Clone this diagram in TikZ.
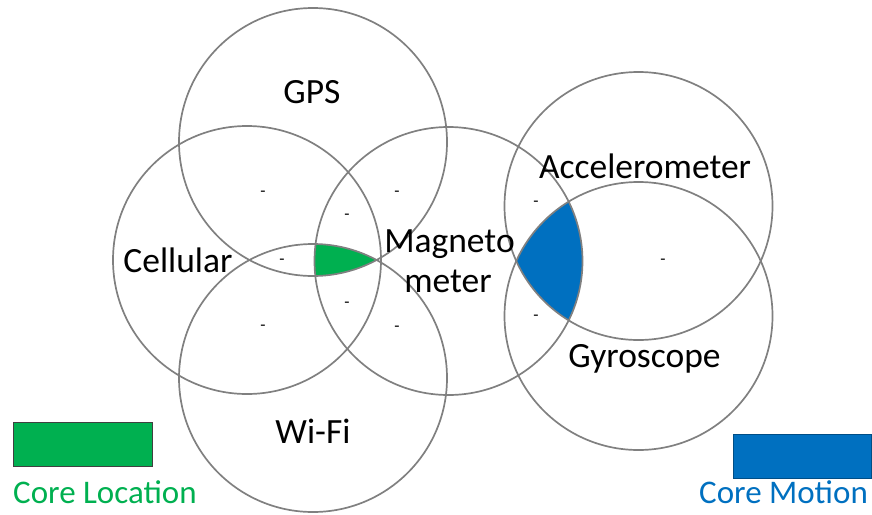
\documentclass[tikz,border=0pt]{standalone}
\usepackage{fontspec}
\setmainfont{Carlito}
\definecolor{locgreen}{HTML}{00B050}
\definecolor{motblue}{HTML}{0070C0}
\definecolor{ringgray}{HTML}{808080}
\begin{document}
\begin{tikzpicture}[x=1pt,y=-1pt,
  ring/.style={draw=ringgray,line width=1.7pt},
  lbl/.style={anchor=base,inner sep=0pt,font=\fontsize{35.5}{40}\selectfont,text=black},
  dashmark/.style={inner sep=0pt,font=\fontsize{17}{18}\selectfont,text=black},
  legtext/.style={anchor=base west,inner sep=0pt,font=\fontsize{33}{36}\selectfont}]
\useasboundingbox (0,0) rectangle (872,514);
% centres
\coordinate (gps) at (313,142);
\coordinate (cell) at (247,260);
\coordinate (mag) at (448.5,261);
\coordinate (wifi) at (313,378);
\coordinate (acc) at (638.5,206);
\coordinate (gyro) at (638.5,316);
% green region
\begin{scope}
  \clip (gps) circle (134pt);
  \clip (wifi) circle (134pt);
  \clip (mag) circle (134pt);
  \clip (cell) circle (134pt);
  \fill[locgreen] (0,0) rectangle (872,514);
\end{scope}
% blue region
\begin{scope}
  \clip (acc) circle (134pt);
  \clip (gyro) circle (134pt);
  \clip (mag) circle (134pt);
  \fill[motblue] (0,0) rectangle (872,514);
\end{scope}
% circles
\draw[ring] (gps) circle (134pt);
\draw[ring] (cell) circle (134pt);
\draw[ring] (mag) circle (134pt);
\draw[ring] (wifi) circle (134pt);
\draw[ring] (acc) circle (134pt);
\draw[ring] (gyro) circle (134pt);
% labels
\node[lbl] (lgps) at (312,103) {GPS};
\node[lbl] (lcell) at (178,272) {Cellular};
\node[lbl] (lmag1) at (449.5,252) {Magneto};
\node[lbl] (lmag2) at (448,292) {meter};
\node[lbl] (lacc) at (645,178) {Accelerometer};
\node[lbl] (lgyro) at (644.5,367) {Gyroscope};
\node[lbl] (lwifi) at (313,443) {Wi-Fi};
% dashes
\node[dashmark] (d1) at (263,194) {-};
\node[dashmark] (d2) at (347,217) {-};
\node[dashmark] (d3) at (397,194) {-};
\node[dashmark] (d4) at (282,262) {-};
\node[dashmark] (d5) at (263,328) {-};
\node[dashmark] (d6) at (347,305) {-};
\node[dashmark] (d7) at (397,329) {-};
\node[dashmark] (d8) at (536,204) {-};
\node[dashmark] (d9) at (536,318) {-};
\node[dashmark] (d10) at (663,262) {-};
% legend
\node[draw=black!75,line width=0.8pt,fill=locgreen,anchor=north west,inner sep=0pt,
      minimum width=139pt,minimum height=44pt] (legloc) at (13,422) {};
\node[legtext,text=locgreen] (tloc) at (13,503) {Core Location};
\node[draw=motblue!70!black,line width=0.6pt,fill=motblue,anchor=north west,inner sep=0pt,
      minimum width=138pt,minimum height=44pt] (legmot) at (733,434) {};
\node[legtext,text=motblue] (tmot) at (699,503) {Core Motion};
\end{tikzpicture}
\end{document}
